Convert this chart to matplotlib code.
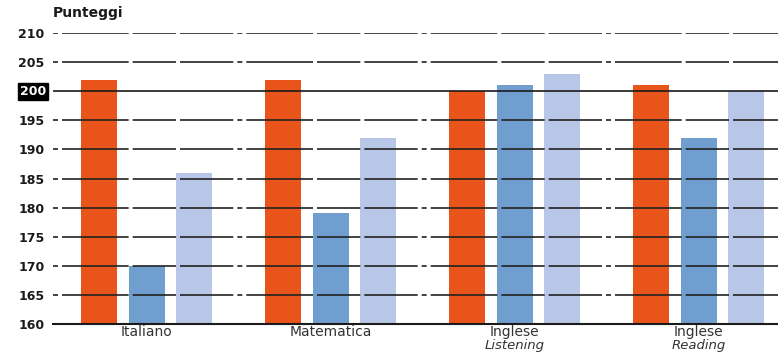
import matplotlib
matplotlib.use("Agg")
import matplotlib.pyplot as plt
import numpy as np

categories = ["Italiano", "Matematica", "Inglese", "Inglese"]
subtitles = ["", "", "Listening", "Reading"]
series_a = [202, 202, 200, 201]
series_b = [170, 179, 201, 192]
series_c = [186, 192, 203, 200]
yticks = [160, 165, 170, 175, 180, 185, 190, 195, 200, 205, 210]

colors = ["#E8541A", "#6F9ECF", "#B8C7E8"]

W, H = 778, 352
fig = plt.figure(figsize=(W / 100, H / 100), dpi=100)
left_px = 53
ax = fig.add_axes([left_px / W, 28 / H, 1 - left_px / W, (324 - 33) / H])

x = np.arange(len(categories))
group_px = 184
step = 47.5 / group_px
width = 36 / group_px
for k, (vals, c) in enumerate(zip([series_a, series_b, series_c], colors)):
    ax.bar(x + (k - 1) * step, np.array(vals) - 160, width=width, bottom=160,
           color=c, edgecolor="none", zorder=2)

ax.set_xlim(-(146.5 - left_px) / group_px, (W - 146.5) / group_px)
ax.set_ylim(160, 210)

# horizontal reference lines drawn over the bars
for v in yticks[1:]:
    if v == 200:
        ax.axhline(v, color="#1a1a1a", lw=1.2, zorder=3)
    else:
        ax.axhline(v, color="#222222", lw=1.2, zorder=3,
                   linestyle=(0, (3, 2.4, 40, 2.4, 26, 2.4, 32, 2.4)))
ax.axhline(160, color="#1a1a1a", lw=1.5, zorder=3, clip_on=False)

for s in ax.spines.values():
    s.set_visible(False)

ax.set_yticks(yticks)
ax.set_yticklabels([str(v) if v != 200 else "" for v in yticks],
                   fontsize=9, fontweight="bold", color="#1a1a1a")
ax.tick_params(axis="y", length=0, pad=6)
ax.text(-7 / (W - left_px), 200, "200", transform=ax.get_yaxis_transform(),
        ha="right", va="center", fontsize=9, fontweight="bold", color="white",
        bbox=dict(boxstyle="square,pad=0.15", fc="black", ec="black"))

ax.set_xticks(x)
ax.set_xticklabels([])
ax.tick_params(axis="x", length=0)
for xi, cat, sub in zip(x, categories, subtitles):
    xf = ax.transData.transform((xi, 0))[0] / W
    fig.text(xf, 1 - 332 / H, cat, ha="center", va="center", fontsize=10,
             color="#333333")
    if sub:
        fig.text(xf, 1 - 345 / H, sub, ha="center", va="center",
                 fontsize=9.5, style="italic", color="#333333")

fig.text(53 / W, 1 - 13 / H, "Punteggi", fontsize=10, fontweight="bold",
         color="#1a1a1a", ha="left", va="center")

fig.savefig("out.png", dpi=100)
